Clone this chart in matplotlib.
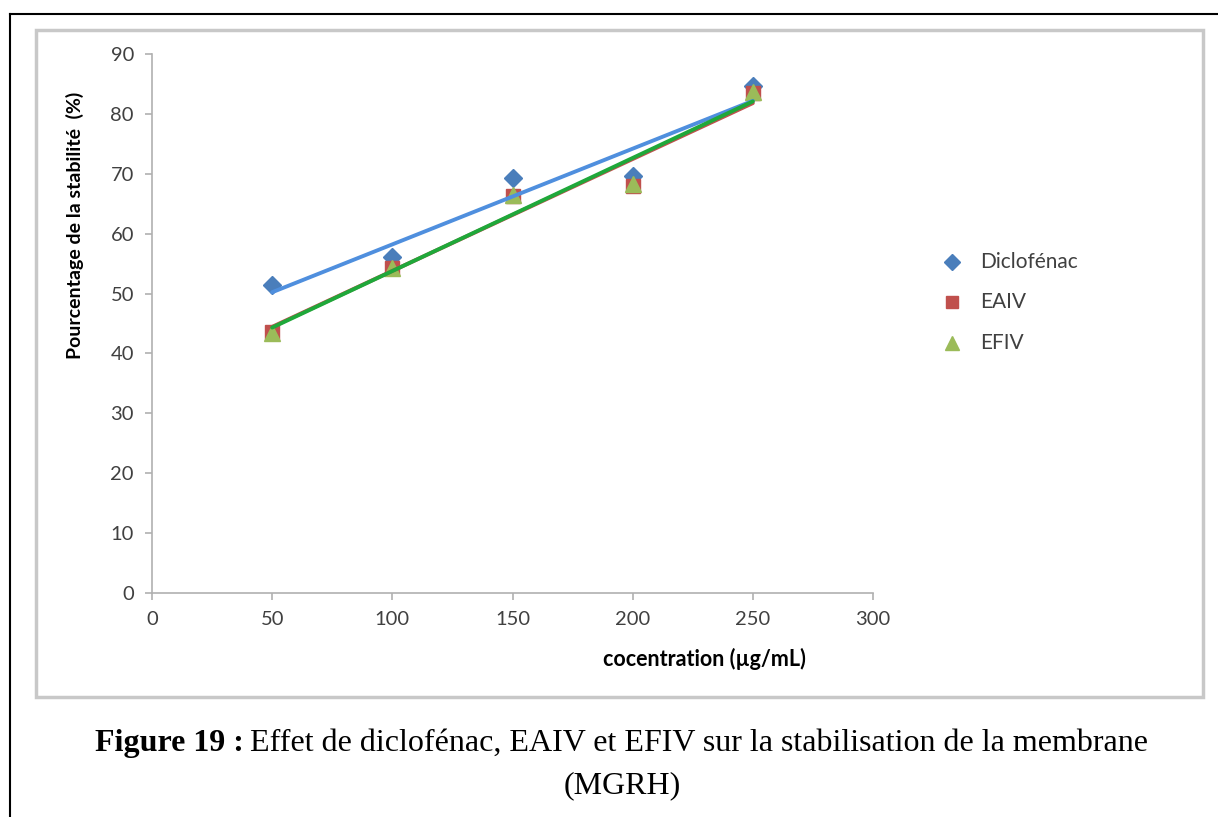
import numpy as np
import matplotlib.pyplot as plt
from matplotlib.patches import Rectangle
from matplotlib.lines import Line2D

# Données
concentrations = [50, 100, 150, 200, 250]
diclofenac = [51.4, 56.1, 69.3, 69.6, 84.6]
eaiv = [43.6, 54.3, 66.3, 67.9, 83.5]
efiv = [43.4, 54.3, 66.4, 68.3, 83.6]

series_noms = ["Diclofénac", "EAIV", "EFIV"]
x_ticks = [0, 50, 100, 150, 200, 250, 300]
y_ticks = [0, 10, 20, 30, 40, 50, 60, 70, 80, 90]

W, H = 1218, 817
fig = plt.figure(figsize=(W / 100, H / 100), dpi=100)
fig.patch.set_facecolor('white')

def fx(px):
    return px / W

def fy(py):
    return 1 - py / H

# Cadre noir du document
fig.add_artist(Line2D([fx(10), fx(10)], [fy(14), 0], transform=fig.transFigure, color='black', lw=1.5))
fig.add_artist(Line2D([fx(10), 1], [fy(14), fy(14)], transform=fig.transFigure, color='black', lw=1.5))

# Cadre gris du graphique
fig.add_artist(Rectangle((fx(36), fy(697)), fx(1203) - fx(36), fy(30) - fy(697),
                         transform=fig.transFigure, fill=False, edgecolor='#c8c8c8', lw=2.5))

ax = fig.add_axes([fx(152), fy(593), fx(873) - fx(152), fy(54) - fy(593)])

x = np.array(concentrations)
couleurs_pts = ['#4a7ebb', '#c0504d', '#9bbb59']
couleurs_lignes = ['#4f8fde', '#c0504d', '#1fa83a']
marqueurs = ['D', 's', '^']
tailles = [9, 10, 11]

for i, y in enumerate([diclofenac, eaiv, efiv]):
    ax.plot(x, y, linestyle='none', marker=marqueurs[i], color=couleurs_pts[i],
            markersize=tailles[i], zorder=3 + i)

# Courbes de tendance linéaires
for i, y in enumerate([diclofenac, eaiv, efiv]):
    a, b = np.polyfit(x, y, 1)
    xs = np.array([x.min(), x.max()])
    ax.plot(xs, a * xs + b, color=couleurs_lignes[i], lw=2.8, zorder=6 + i,
            solid_capstyle='round')

ax.set_xlim(0, 300)
ax.set_ylim(0, 90)
ax.set_xticks(x_ticks)
ax.set_yticks(y_ticks)
for s in ['top', 'right']:
    ax.spines[s].set_visible(False)
for s in ['left', 'bottom']:
    ax.spines[s].set_color('#b0b0b0')
    ax.spines[s].set_linewidth(1.2)
ax.tick_params(colors='#b0b0b0', length=5, width=1.2, direction='out',
               labelcolor='#404040', labelsize=14.5, pad=8)
for lab in ax.get_xticklabels() + ax.get_yticklabels():
    lab.set_fontfamily('Lato')

fig.text(fx(75), fy(225), "Pourcentage de la stabilité  (%)", rotation=90,
         ha='center', va='center', fontsize=14, fontweight='bold', family='Lato', color='black')
fig.text(fx(704), fy(659), "cocentration (µg/mL)", ha='center', va='center',
         fontsize=15.5, fontweight='bold', family='Lato', color='black')

# Légende
leg_y = [262, 302, 343]
for i, nom in enumerate(series_noms):
    fig.add_artist(Line2D([fx(952)], [fy(leg_y[i])], transform=fig.transFigure,
                          linestyle='none', marker=marqueurs[i], color=couleurs_pts[i],
                          markersize=tailles[i] - 1))
    fig.text(fx(980), fy(leg_y[i]), nom, ha='left', va='center', fontsize=15,
             family='Lato', color='#404040')

# Légende de la figure
t1 = fig.text(fx(95), fy(743), "Figure 19 :", ha='left', va='center', fontsize=23,
              fontweight='bold', family='Liberation Serif')
fig.canvas.draw()
bb = t1.get_window_extent()
fig.text(bb.x1 / W + fx(6), fy(743), "Effet de diclofénac, EAIV et EFIV sur la stabilisation de la membrane",
         ha='left', va='center', fontsize=23, family='Liberation Serif')
fig.text(fx(622), fy(786), "(MGRH)", ha='center', va='center', fontsize=23, family='Liberation Serif')

plt.savefig("out.png", dpi=100)
